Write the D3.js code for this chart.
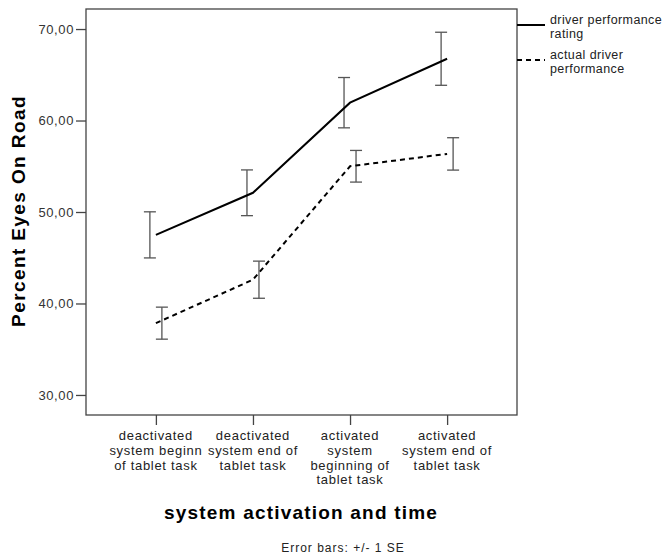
<!DOCTYPE html>
<html><head><meta charset="utf-8">
<script src="https://cdn.jsdelivr.net/npm/d3@7"></script>
<style>body{margin:0;background:#fff}</style>
</head><body>
<svg id="c" width="668" height="559"></svg>
<script>
const categories = [
  ["deactivated","system beginn","of tablet task"],
  ["deactivated","system end of","tablet task"],
  ["activated","system","beginning of","tablet task"],
  ["activated","system end of","tablet task"]
];
const seriesNames = [["driver performance","rating"],["actual driver","performance"]];
const ratingMean = [47.5, 52.1, 61.95, 66.75];
const ratingSE   = [2.52, 2.50, 2.75, 2.9];
const actualMean = [37.85, 42.6, 55.0, 56.35];
const actualSE   = [1.75, 2.03, 1.73, 1.77];
const yTicks = [30, 40, 50, 60, 70];

const FONT = "Arial, 'Liberation Sans', sans-serif";
const svg = d3.select("#c");
const L = 86, R = 517, T = 9, B = 415;
const x = d3.scalePoint().domain(d3.range(categories.length)).range([L, R]).padding(0.72);
const y = d3.scaleLinear().domain([27.81, 72.19]).range([B, T]);
const fmt = d => d3.format(".2f")(d).replace(".", ",");

// frame
svg.append("rect").attr("x", L).attr("y", T).attr("width", R - L).attr("height", B - T)
  .attr("fill", "none").attr("stroke", "#444").attr("stroke-width", 1.3);

// y axis
const ya = svg.append("g").attr("transform", `translate(${L},0)`)
  .call(d3.axisLeft(y).tickValues(yTicks).tickFormat(fmt).tickSize(10).tickPadding(2));
ya.select(".domain").remove();
ya.selectAll("line").attr("stroke", "#444").attr("stroke-width", 1.3);
ya.selectAll("text").attr("font-family", FONT).attr("font-size", 13).attr("letter-spacing", 0.6).attr("fill", "#333");

// x axis
const xa = svg.append("g").attr("transform", `translate(0,${B})`)
  .call(d3.axisBottom(x).tickSize(10).tickFormat(""));
xa.select(".domain").remove();
xa.selectAll("line").attr("stroke", "#444").attr("stroke-width", 1.3);
categories.forEach((lines, i) => {
  const t = svg.append("text").attr("x", x(i)).attr("y", 440)
    .attr("text-anchor", "middle").attr("font-family", FONT)
    .attr("font-size", 13).attr("letter-spacing", 0.7).attr("fill", "#222");
  lines.forEach((s, j) => t.append("tspan").attr("x", x(i)).attr("dy", j ? 14.8 : 0).text(s));
});

// error bars
function errBars(mean, se, off) {
  const g = svg.append("g").attr("stroke", "#555").attr("stroke-width", 1.3);
  mean.forEach((m, i) => {
    const cx = x(i) + off;
    g.append("line").attr("x1", cx).attr("x2", cx).attr("y1", y(m + se[i])).attr("y2", y(m - se[i]));
    [m + se[i], m - se[i]].forEach(v => g.append("line").attr("x1", cx - 6).attr("x2", cx + 6).attr("y1", y(v)).attr("y2", y(v)));
  });
}
errBars(ratingMean, ratingSE, -6);
errBars(actualMean, actualSE, 6);

// lines
const line = d3.line().x((d, i) => x(i)).y(d => y(d));
svg.append("path").datum(ratingMean).attr("d", line).attr("fill", "none").attr("stroke", "#000").attr("stroke-width", 2);
svg.append("path").datum(actualMean).attr("d", line).attr("fill", "none").attr("stroke", "#000").attr("stroke-width", 2).attr("stroke-dasharray", "5,4");

// legend
const legY = [25, 60];
const dashes = [null, "5,4"];
seriesNames.forEach((lines, k) => {
  svg.append("line").attr("x1", R).attr("x2", 545).attr("y1", legY[k]).attr("y2", legY[k])
    .attr("stroke", "#000").attr("stroke-width", 2).attr("stroke-dasharray", dashes[k]);
  const t = svg.append("text").attr("x", 550).attr("y", legY[k] - 1.5)
    .attr("font-family", FONT).attr("font-size", 12.5).attr("letter-spacing", 0.4).attr("fill", "#222");
  lines.forEach((s, j) => t.append("tspan").attr("x", 550).attr("dy", j ? 14.5 : 0).text(s));
});

// titles
svg.append("text").attr("transform", "translate(25,211) rotate(-90)").attr("text-anchor", "middle")
  .attr("font-family", FONT).attr("font-weight", "bold").attr("font-size", 19).attr("letter-spacing", 1.4)
  .attr("fill", "#000").text("Percent Eyes On Road");
svg.append("text").attr("x", 301).attr("y", 519).attr("text-anchor", "middle")
  .attr("font-family", FONT).attr("font-weight", "bold").attr("font-size", 19).attr("letter-spacing", 1.2)
  .attr("fill", "#000").text("system activation and time");
svg.append("text").attr("x", 343).attr("y", 552).attr("text-anchor", "middle")
  .attr("font-family", FONT).attr("font-size", 12).attr("letter-spacing", 1.0)
  .attr("fill", "#222").text("Error bars: +/- 1 SE");
</script>
</body></html>
